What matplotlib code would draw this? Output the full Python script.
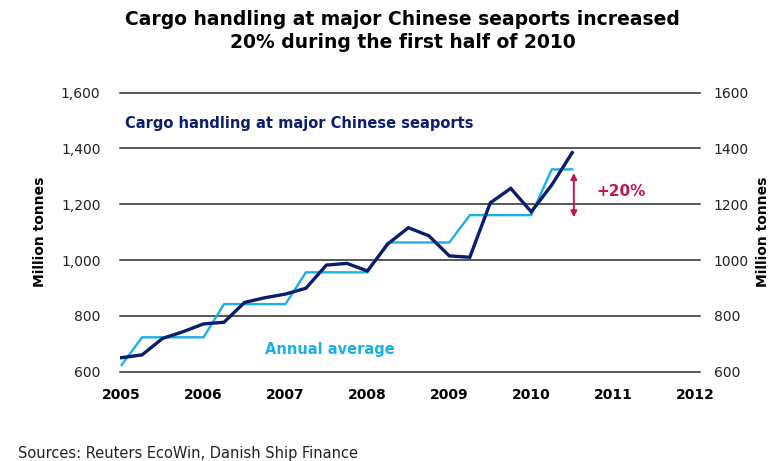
import matplotlib
matplotlib.use("Agg")
import matplotlib.pyplot as plt
import numpy as np

# Data (quarterly, 2005Q1 .. 2010Q3 start)
quarters = [2005 + i * 0.25 for i in range(23)]
cargo = [650, 660, 719, 743, 771, 777, 848, 865, 878, 899, 982, 988, 961,
         1058, 1116, 1087, 1015, 1010, 1205, 1257, 1173, 1269, 1385]
annual_avg = [624, 723, 723, 723, 723, 842, 842, 842, 842, 956, 956, 956, 956,
              1063, 1063, 1063, 1063, 1161, 1161, 1161, 1161, 1325, 1325]
years = [2005, 2006, 2007, 2008, 2009, 2010, 2011, 2012]
yticks = [600, 800, 1000, 1200, 1400, 1600]

NAVY = "#0b1d6e"
LIGHT = "#1aafe6"
CRIMSON = "#c41459"

fig = plt.figure(figsize=(7.71, 4.61), dpi=100)
ax = fig.add_axes([0.1556, 0.1939, 0.7523, 0.605])

ax.set_xlim(2004.98, 2012.06)
ax.set_ylim(600, 1600)

for v in yticks:
    ax.axhline(v, color="#2a2a2a", lw=1.1, clip_on=False, zorder=1)

ax.plot(quarters, annual_avg, color=LIGHT, lw=1.7, zorder=3)
ax.plot(quarters, cargo, color=NAVY, lw=2.4, zorder=4, solid_joinstyle="miter")

for s in ax.spines.values():
    s.set_visible(False)

ax.set_xticks(years)
ax.set_xticklabels([str(y) for y in years], fontweight="bold", fontsize=10)
ax.set_yticks(yticks)
ax.set_yticklabels([f"{v:,}" for v in yticks], fontsize=10, color="#222222")
ax.tick_params(axis="x", length=0, pad=12)
ax.tick_params(axis="y", length=0, pad=14)

ax2 = ax.twinx()
ax2.set_ylim(600, 1600)
ax2.set_yticks(yticks)
ax2.set_yticklabels([str(v) for v in yticks], fontsize=10, color="#222222")
ax2.tick_params(axis="y", length=0, pad=10)
for s in ax2.spines.values():
    s.set_visible(False)

ax.set_ylabel("Million tonnes", fontweight="bold", fontsize=10, labelpad=10)
fig.text(770 / 771, 1 - 232 / 461, "Million tonnes", rotation=90,
         fontweight="bold", fontsize=10, ha="right", va="center")

ax.text(2005.04, 1491, "Cargo handling at major Chinese seaports", color=NAVY,
        fontweight="bold", fontsize=10.5, ha="left", va="center")
ax.text(2006.75, 681, "Annual average", color=LIGHT,
        fontweight="bold", fontsize=10.5, ha="left", va="center")

ax.annotate("", xy=(2010.52, 1153), xytext=(2010.52, 1312),
            arrowprops=dict(arrowstyle="<|-|>", color=CRIMSON, lw=1.4,
                            mutation_scale=9, shrinkA=0, shrinkB=0), zorder=5)
ax.text(2010.79, 1245, "+20%", color=CRIMSON, fontweight="bold", fontsize=11,
        ha="left", va="center")

fig.text(0.522, 1 - 31 / 461, "Cargo handling at major Chinese seaports increased\n20% during the first half of 2010",
         ha="center", va="center", fontweight="bold", fontsize=13.5, linespacing=1.3)

fig.text(18 / 771, 1 - 453 / 461, "Sources: Reuters EcoWin, Danish Ship Finance",
         fontsize=10.5, ha="left", va="center", color="#222222")

fig.savefig("out.png", dpi=100)
